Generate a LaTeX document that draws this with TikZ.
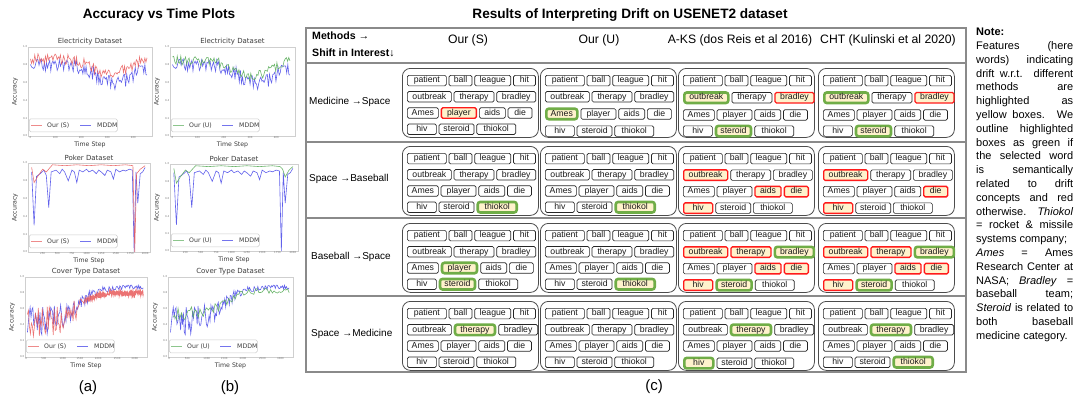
\documentclass[tikz,border=0pt]{standalone}
\usepackage{fontspec}
\setmainfont{Liberation Sans}
\newfontfamily\plotfont{DejaVu Sans}
\usetikzlibrary{positioning}

\definecolor{hlyellow}{HTML}{FFF2CC}
\definecolor{redline}{HTML}{FF1A1A}
\definecolor{greenline}{HTML}{70AD47}
\definecolor{tablegray}{HTML}{8A8A8A}
\definecolor{plotred}{HTML}{E85A5A}
\definecolor{plotblue}{HTML}{3A3AE6}
\definecolor{plotgreen}{HTML}{5DAE5D}
\definecolor{framegray}{HTML}{CFCFCF}
\definecolor{plottext}{HTML}{3C3C3C}

\tikzset{
  wd/.style={draw=black!85, line width=0.7pt, rounded corners=1.5pt, inner sep=0pt,
    minimum height=10.5pt, text height=6.2pt, text depth=1.8pt,
    font=\fontsize{8.7}{9}\selectfont, text=black!90},
  cellbox/.style={draw=black!70, line width=0.8pt, rounded corners=8pt,
    minimum width=136pt, minimum height=69pt, inner sep=0pt},
  hlr/.style={draw=redline, line width=1.3pt, fill=hlyellow},
  hlg/.style={draw=greenline, line width=2.6pt, fill=hlyellow, rounded corners=2.5pt},
  hl patient/.style={}, hl ball/.style={}, hl league/.style={}, hl hit/.style={},
  hl outbreak/.style={}, hl therapy/.style={}, hl bradley/.style={},
  hl Ames/.style={}, hl player/.style={}, hl aids/.style={}, hl die/.style={},
  hl hiv/.style={}, hl steroid/.style={}, hl thiokol/.style={},
  tableline/.style={draw=tablegray, line width=1.1pt},
  titletext/.style={font=\bfseries\fontsize{13.6}{15}\selectfont, inner sep=0pt},
  headtext/.style={font=\fontsize{12.2}{14}\selectfont, inner sep=0pt},
  methodtext/.style={font=\bfseries\fontsize{10.6}{12}\selectfont, inner sep=0pt, anchor=west},
  rowtext/.style={font=\fontsize{10}{12}\selectfont, inner sep=0pt, anchor=west},
  captext/.style={font=\fontsize{15}{17}\selectfont, inner sep=0pt},
  notetext/.style={font=\fontsize{11}{13.8}\selectfont, inner sep=0pt,
    text width=97pt, align=justify, anchor=north west},
  plotframe/.style={draw=framegray, line width=0.6pt},
  plottitle/.style={font=\plotfont\fontsize{7}{8}\selectfont, text=plottext, inner sep=0pt},
  axislabel/.style={font=\plotfont\fontsize{6.2}{7}\selectfont, text=plottext, inner sep=0pt},
  ticklabel/.style={font=\plotfont\fontsize{2.6}{3}\selectfont, text=black!55, inner sep=0.6pt},
  legendbox/.style={draw=black!20, fill=white, rounded corners=1.5pt, line width=0.5pt,
    minimum width=88pt, minimum height=13pt, inner sep=0pt},
  legendtext/.style={font=\plotfont\fontsize{6.2}{7}\selectfont, text=plottext, inner sep=0pt, anchor=west},
  sline/.style={draw=plotred, line width=0.6pt, opacity=0.85},
  uline/.style={draw=plotgreen, line width=0.6pt, opacity=0.9},
  mddmline/.style={draw=plotblue, line width=0.6pt, opacity=0.8},
}

% one cell of the table: name, top left corner, highlighted words
\newcommand\wordcell[3]{%
  \begin{scope}[#3]
  \node[cellbox, anchor=north west] (#1) at (#2) {};
  \node[wd, hl patient, minimum width=39, below right=7pt and 5pt of #1.north west] (#1-patient) {patient};
  \node[wd, hl ball, minimum width=23, right=2pt of #1-patient] (#1-ball) {ball};
  \node[wd, hl league, minimum width=36, right=2pt of #1-ball] (#1-league) {league};
  \node[wd, hl hit, minimum width=22, right=2pt of #1-league] (#1-hit) {hit};
  \node[wd, hl outbreak, minimum width=44, below right=5pt and 0pt of #1-patient.south west] (#1-outbreak) {outbreak};
  \node[wd, hl therapy, minimum width=40, right=2pt of #1-outbreak] (#1-therapy) {therapy};
  \node[wd, hl bradley, minimum width=39, right=2pt of #1-therapy] (#1-bradley) {bradley};
  \node[wd, hl Ames, minimum width=31, below right=5pt and 0pt of #1-outbreak.south west] (#1-Ames) {Ames};
  \node[wd, hl player, minimum width=35, right=2pt of #1-Ames] (#1-player) {player};
  \node[wd, hl aids, minimum width=26, right=2pt of #1-player] (#1-aids) {aids};
  \node[wd, hl die, minimum width=24, right=2pt of #1-aids] (#1-die) {die};
  \node[wd, hl hiv, minimum width=29, below right=5pt and 0pt of #1-Ames.south west] (#1-hiv) {hiv};
  \node[wd, hl steroid, minimum width=35, right=2pt of #1-hiv] (#1-steroid) {steroid};
  \node[wd, hl thiokol, minimum width=39, right=2pt of #1-steroid] (#1-thiokol) {thiokol};
  \end{scope}}

% frame of one accuracy plot: name, left, top, right, bottom, title, method, method colour, x ticks
\newcommand\accplot[9]{%
  \draw[plotframe] (#2,#3) rectangle (#4,#5);
  \node[plottitle] (#1-title) at ({(#2+#4)/2},{#3-5}) {#6};
  \node[axislabel] (#1-xlab) at ({(#2+#4)/2},{#5+9}) {Time Step};
  \node[axislabel, rotate=90] (#1-ylab) at ({#2-13},{(#3+#5)/2}) {Accuracy};
  \foreach \v [count=\k from 0] in {0.0,0.2,0.4,0.6,0.8,1.0}
    \node[ticklabel, anchor=east] (#1-y\k) at (#2,{#5-\k*(#5-#3)/5}) {\v};
  \foreach \v/\f [count=\k] in {#9}
    \node[ticklabel, anchor=north] (#1-x\k) at ({#2+\f*(#4-#2)},#5) {\v};
  \node[legendbox, anchor=south west] (#1-legend) at ({#2+1},{#5-4}) {};
  \draw[#8, line width=1.4pt, opacity=0.7] ([xshift=2pt]#1-legend.west) -- ([xshift=13pt]#1-legend.west);
  \node[legendtext] (#1-lm) at ([xshift=18pt]#1-legend.west) {#7};
  \draw[plotblue, line width=1.4pt, opacity=0.7] ([xshift=51pt]#1-legend.west) -- ([xshift=62pt]#1-legend.west);
  \node[legendtext] (#1-lb) at ([xshift=68pt]#1-legend.west) {MDDM};
}

\begin{document}
\begin{tikzpicture}[x=1pt, y=-1pt]
\useasboundingbox (0,0) rectangle (1074,397);

\node[titletext] (t-plots) at (159,15) {Accuracy vs Time Plots};
\node[titletext] (t-table) at (630,15) {Results of Interpreting Drift on USENET2 dataset};

% ---- accuracy plots ----
\accplot{ea}{28}{47}{152}{136}{Electricity Dataset}{Our (S)}{plotred}{0/0.02,100/0.22,200/0.43,300/0.64,400/0.85}
\accplot{eb}{170}{47}{295}{136}{Electricity Dataset}{Our (U)}{plotgreen}{0/0.02,100/0.22,200/0.43,300/0.64,400/0.85}
\accplot{pa}{28}{163}{150}{252}{Poker Dataset}{Our (S)}{plotred}{250/0.12,500/0.24,750/0.36,1000/0.48,1250/0.6,1500/0.72,1750/0.84,2000/0.96}
\accplot{pb}{170}{164}{298}{251}{Poker Dataset}{Our (U)}{plotgreen}{250/0.12,500/0.24,750/0.36,1000/0.48,1250/0.6,1500/0.72,1750/0.84,2000/0.96}
\accplot{ca}{25}{277}{147}{357}{Cover Type Dataset}{Our (S)}{plotred}{0/0.01,500/0.155,1000/0.31,1500/0.45,2000/0.6,2500/0.755,3000/0.9}
\accplot{cb}{168}{277}{293}{357}{Cover Type Dataset}{Our (U)}{plotgreen}{0/0.01,500/0.155,1000/0.31,1500/0.45,2000/0.6,2500/0.755,3000/0.9}

\begin{scope}[shift={(28,136)}, xscale=124, yscale=-89]
  \pgfmathsetseed{11}
  \draw[mddmline] plot[domain=0.02:0.96, samples=110, variable=\t] (\t,{0.8-0.2*exp(-((\t-0.7)/0.2)*((\t-0.7)/0.2))+0.08*rand});
  \pgfmathsetseed{5}
  \draw[sline] plot[domain=0.02:0.96, samples=110, variable=\t] (\t,{0.87-0.17*exp(-((\t-0.66)/0.2)*((\t-0.66)/0.2))+0.06*rand});
\end{scope}
\begin{scope}[shift={(170,136)}, xscale=125, yscale=-89]
  \pgfmathsetseed{11}
  \draw[mddmline] plot[domain=0.02:0.96, samples=110, variable=\t] (\t,{0.8-0.2*exp(-((\t-0.7)/0.2)*((\t-0.7)/0.2))+0.08*rand});
  \pgfmathsetseed{8}
  \draw[uline] plot[domain=0.02:0.96, samples=100, variable=\t] (\t,{0.85-0.17*exp(-((\t-0.66)/0.2)*((\t-0.66)/0.2))+0.06*rand});
\end{scope}

\begin{scope}[shift={(28,252)}, xscale=122, yscale=-89]
  \draw[mddmline] plot coordinates {(0.03,0.9) (0.05,0.3) (0.07,0.85) (0.1,0.88) (0.13,0.92) (0.15,0.86) (0.17,0.5) (0.19,0.9) (0.23,0.92) (0.26,0.88) (0.28,0.93) (0.3,0.9) (0.33,0.8) (0.36,0.92) (0.38,0.9) (0.4,0.78) (0.42,0.92) (0.45,0.9) (0.48,0.93) (0.5,0.9) (0.53,0.92) (0.56,0.88) (0.58,0.92) (0.6,0.9) (0.63,0.86) (0.65,0.92) (0.68,0.9) (0.7,0.82) (0.72,0.93) (0.75,0.9) (0.78,0.92) (0.8,0.91) (0.83,0.93) (0.855,0.92) (0.87,0.0) (0.885,0.9) (0.9,0.55) (0.92,0.88) (0.94,0.9) (0.96,0.95)};
  \draw[sline] plot coordinates {(0.03,0.95) (0.05,0.78) (0.08,0.85) (0.12,0.93) (0.15,0.9) (0.2,0.98) (0.3,0.97) (0.4,0.98) (0.5,0.97) (0.6,0.98) (0.7,0.97) (0.8,0.98) (0.86,0.97) (0.875,0.0) (0.89,0.88) (0.92,0.93) (0.96,0.97)};
\end{scope}
\begin{scope}[shift={(170,251)}, xscale=128, yscale=-87]
  \draw[mddmline] plot coordinates {(0.03,0.9) (0.05,0.3) (0.07,0.85) (0.1,0.88) (0.13,0.92) (0.15,0.86) (0.17,0.5) (0.19,0.9) (0.23,0.92) (0.26,0.88) (0.28,0.93) (0.3,0.9) (0.33,0.8) (0.36,0.92) (0.38,0.9) (0.4,0.78) (0.42,0.92) (0.45,0.9) (0.48,0.93) (0.5,0.9) (0.53,0.92) (0.56,0.88) (0.58,0.92) (0.6,0.9) (0.63,0.86) (0.65,0.92) (0.68,0.9) (0.7,0.82) (0.72,0.93) (0.75,0.9) (0.78,0.92) (0.8,0.91) (0.83,0.93) (0.855,0.92) (0.87,0.0) (0.885,0.9) (0.9,0.55) (0.92,0.88) (0.94,0.9) (0.96,0.95)};
  \draw[uline] plot coordinates {(0.03,0.95) (0.05,0.78) (0.08,0.85) (0.12,0.93) (0.15,0.9) (0.2,0.98) (0.3,0.97) (0.4,0.98) (0.5,0.97) (0.6,0.98) (0.7,0.97) (0.8,0.98) (0.86,0.97) (0.88,0.94) (0.9,0.85) (0.93,0.93) (0.96,0.97)};
\end{scope}

\begin{scope}[shift={(25,357)}, xscale=122, yscale=-80]
  \pgfmathsetseed{21}
  \draw[mddmline] plot[domain=0.02:0.97, samples=130, variable=\t] (\t,{0.45+0.42/(1+exp(-(\t-0.45)*14))+(0.18-0.15/(1+exp(-(\t-0.45)*14)))*rand});
  \pgfmathsetseed{3}
  \draw[sline] plot[domain=0.02:0.5, samples=60, variable=\t] (\t,{0.45+0.35/(1+exp(-(\t-0.45)*14))+(0.2-0.17/(1+exp(-(\t-0.45)*14)))*rand});
  \draw[sline, line width=0.8pt] plot[domain=0.5:0.97, samples=260, variable=\t] (\t,{0.5+0.3/(1+exp(-(\t-0.45)*14))+0.035*rand});
\end{scope}
\begin{scope}[shift={(168,357)}, xscale=125, yscale=-80]
  \pgfmathsetseed{21}
  \draw[mddmline] plot[domain=0.02:0.97, samples=130, variable=\t] (\t,{0.45+0.42/(1+exp(-(\t-0.45)*14))+(0.18-0.15/(1+exp(-(\t-0.45)*14)))*rand});
  \pgfmathsetseed{9}
  \draw[uline] plot[domain=0.04:0.97, samples=70, variable=\t] (\t,{0.52+0.31/(1+exp(-(\t-0.45)*14))+(0.1-0.06/(1+exp(-(\t-0.45)*14)))*rand});
\end{scope}

\node[captext] (cap-a) at (88,388) {(a)};
\node[captext] (cap-b) at (230,388) {(b)};
\node[captext] (cap-c) at (654,387) {(c)};

% ---- table ----
\draw[tableline] (306,28) rectangle (966,372);
\foreach \y in {63,142,218,296}
  \draw[tableline] (306,\y) -- (966,\y);

\node[methodtext] (h-methods) at (312,36) {Methods →};
\node[methodtext] (h-shift) at (312,53) {Shift in Interest↓};
\node[headtext] (h-s) at (468,40) {Our (S)};
\node[headtext] (h-u) at (599,40) {Our (U)};
\node[headtext] (h-aks) at (740,40) {A-KS (dos Reis et al 2016)};
\node[headtext] (h-cht) at (888,40) {CHT (Kulinski et al 2020)};

\node[rowtext] (r1) at (309,102) {Medicine →Space};
\node[rowtext] (r2) at (309,179) {Space →Baseball};
\node[rowtext] (r3) at (311,257) {Baseball →Space};
\node[rowtext] (r4) at (311,334) {Space →Medicine};

\wordcell{s1}{402,68}{hl player/.style=hlr}
\wordcell{u1}{540,68}{hl Ames/.style=hlg}
\wordcell{k1}{678,68}{hl outbreak/.style=hlg, hl bradley/.style=hlr, hl steroid/.style=hlg}
\wordcell{c1}{818,68}{hl outbreak/.style=hlg, hl bradley/.style=hlr, hl steroid/.style=hlg}

\wordcell{s2}{402,146}{hl thiokol/.style=hlg}
\wordcell{u2}{540,146}{hl thiokol/.style=hlg}
\wordcell{k2}{678,146}{hl outbreak/.style=hlr, hl aids/.style=hlr, hl die/.style=hlr, hl hiv/.style=hlr}
\wordcell{c2}{818,146}{hl outbreak/.style=hlr, hl die/.style=hlr, hl hiv/.style=hlr}

\wordcell{s3}{402,223}{hl player/.style=hlg, hl steroid/.style=hlg}
\wordcell{u3}{540,223}{hl thiokol/.style=hlg}
\wordcell{k3}{678,223}{hl outbreak/.style=hlr, hl therapy/.style=hlr, hl bradley/.style=hlg, hl aids/.style=hlr, hl die/.style=hlr, hl hiv/.style=hlr, hl steroid/.style=hlg}
\wordcell{c3}{818,223}{hl outbreak/.style=hlr, hl therapy/.style=hlr, hl bradley/.style=hlg, hl aids/.style=hlr, hl die/.style=hlr, hl hiv/.style=hlr, hl steroid/.style=hlg}

\wordcell{s4}{402,301}{hl therapy/.style=hlg}
\wordcell{u4}{540,301}{}
\wordcell{k4}{678,301}{hl therapy/.style=hlg, hl hiv/.style=hlg}
\wordcell{c4}{818,301}{hl therapy/.style=hlg, hl thiokol/.style=hlg}

% ---- note ----
\node[notetext] (note) at (976,28) {\textbf{Note:}\newline
Features (here\linebreak words) indicating\linebreak drift w.r.t. different\linebreak
methods are\linebreak highlighted as\linebreak yellow boxes. We\linebreak
outline highlighted\linebreak boxes as green if\linebreak the selected word\linebreak
is semantically\linebreak related to drift\linebreak concepts and red\linebreak
otherwise. \textit{Thiokol}\linebreak = rocket \& missile\linebreak systems company;\newline
\textit{Ames} = Ames\linebreak Research Center at\linebreak NASA; \textit{Bradley} =\linebreak
baseball team;\linebreak \textit{Steroid} is related to\linebreak both baseball\linebreak
medicine category.};

\end{tikzpicture}
\end{document}
